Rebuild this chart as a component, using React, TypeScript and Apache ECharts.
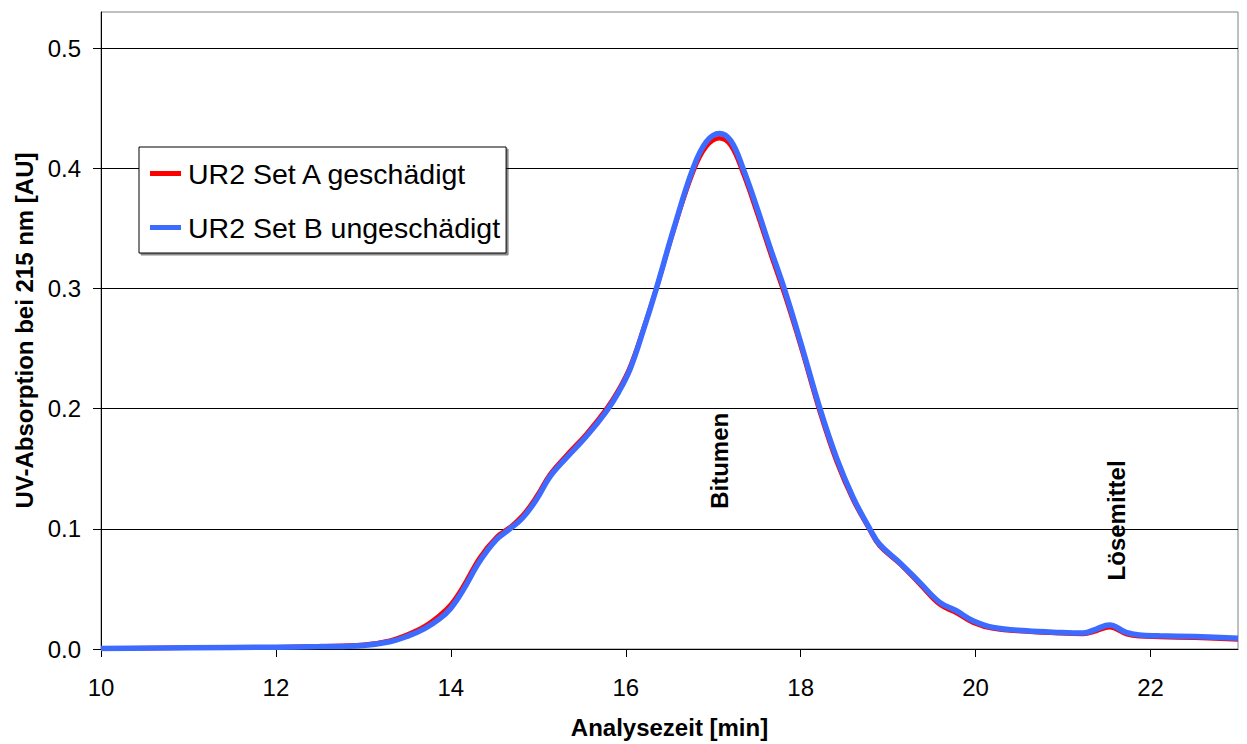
import React, { useEffect, useRef } from "react";
import * as echarts from "echarts";

const timeMin = [10, 11, 12, 12.5, 13, 13.3, 13.5, 13.7, 13.87, 14, 14.14, 14.33, 14.52, 14.67, 14.82, 14.98, 15.13, 15.32, 15.55, 15.78, 15.92, 16.05, 16.2, 16.35, 16.55, 16.77, 16.92, 17.07, 17.2, 17.34, 17.5, 17.65, 17.82, 18.0, 18.22, 18.41, 18.6, 18.79, 18.9, 19.13, 19.36, 19.59, 19.78, 19.97, 20.2, 20.58, 20.96, 21.23, 21.38, 21.53, 21.72, 21.87, 22.1, 22.5, 23];

const setA = [0.0005, 0.001, 0.0015, 0.0022, 0.0035, 0.007, 0.012, 0.019, 0.028, 0.037, 0.052, 0.076, 0.093, 0.101, 0.111, 0.127, 0.145, 0.161, 0.179, 0.2, 0.216, 0.235, 0.266, 0.3, 0.349, 0.397, 0.418, 0.425, 0.419, 0.396, 0.363, 0.33, 0.294, 0.252, 0.197, 0.156, 0.124, 0.099, 0.086, 0.071, 0.054, 0.037, 0.03, 0.022, 0.017, 0.0145, 0.013, 0.0125, 0.015, 0.018, 0.0125, 0.0105, 0.01, 0.0093, 0.008];

const setB = [0.0005, 0.001, 0.0015, 0.002, 0.003, 0.006, 0.0105, 0.017, 0.025, 0.034, 0.049, 0.073, 0.091, 0.0997, 0.109, 0.1246, 0.143, 0.159, 0.177, 0.198, 0.214, 0.233, 0.265, 0.3, 0.35, 0.4, 0.422, 0.429, 0.423, 0.4, 0.367, 0.334, 0.298, 0.255, 0.2, 0.159, 0.126, 0.1, 0.0872, 0.072, 0.0554, 0.0388, 0.0318, 0.0235, 0.018, 0.0152, 0.0138, 0.0133, 0.0166, 0.02, 0.0138, 0.0116, 0.011, 0.0103, 0.009];

const seriesNames = ["UR2 Set A geschädigt", "UR2 Set B ungeschädigt"];
const xTicks = [10, 12, 14, 16, 18, 20, 22];
const yTicks = [0, 0.1, 0.2, 0.3, 0.4, 0.5];
const annotations = [
  { text: "Bitumen", x: 17.07, y: 0.1566 },
  { text: "Lösemittel", x: 21.61, y: 0.107 },
];

const FONT = "'Liberation Sans', Arial, Helvetica, sans-serif";

export default function App() {
  const ref = useRef<HTMLDivElement>(null);

  useEffect(() => {
    document.body.style.margin = "0";
    const chart = echarts.init(ref.current!, null, { renderer: "svg" });
    const option: any = {
      animation: false,
      backgroundColor: "#ffffff",
      textStyle: { fontFamily: FONT },
      grid: {
        left: 101,
        right: 9,
        top: 12,
        bottom: 94,
        show: true,
        borderColor: "#808080",
        borderWidth: 1,
        backgroundColor: "transparent",
      },
      legend: {
        orient: "vertical",
        left: 139,
        top: 147,
        padding: [12, 6, 11, 11],
        itemGap: 25,
        itemWidth: 31,
        itemHeight: 5,
        backgroundColor: "#ffffff",
        borderColor: "#000000",
        borderWidth: 1,
        shadowColor: "rgba(0,0,0,0.45)",
        shadowOffsetX: 2,
        shadowOffsetY: 2,
        textStyle: { fontFamily: FONT, fontSize: 28.5, color: "#000", padding: [0, 0, 0, 2] },
        data: [
          { name: seriesNames[0], icon: "rect", itemStyle: { color: "#ff0000" } },
          { name: seriesNames[1], icon: "rect", itemStyle: { color: "#3d6bff" } },
        ],
      },
      xAxis: {
        type: "value",
        min: 10,
        max: 23,
        interval: 2,
        name: "Analysezeit [min]",
        nameLocation: "middle",
        nameGap: 66,
        nameTextStyle: { fontFamily: FONT, fontSize: 24, fontWeight: "bold", color: "#000" },
        axisLine: { show: true, lineStyle: { color: "#000", width: 1 } },
        axisTick: { show: true, length: 8, inside: false, lineStyle: { color: "#000" }, customValues: xTicks },
        axisLabel: {
          fontFamily: FONT,
          fontSize: 24,
          color: "#000",
          margin: 26,
          customValues: xTicks,
          formatter: (v: number) => String(v),
        },
        splitLine: { show: false },
      },
      yAxis: {
        type: "value",
        min: 0,
        max: 0.53,
        interval: 0.1,
        name: "UV-Absorption bei 215 nm [AU]",
        nameLocation: "middle",
        nameGap: 64,
        nameTextStyle: { fontFamily: FONT, fontSize: 24, fontWeight: "bold", color: "#000" },
        axisLine: { show: true, lineStyle: { color: "#000", width: 1 } },
        axisTick: { show: true, length: 8, inside: false, lineStyle: { color: "#000" }, customValues: yTicks },
        axisLabel: {
          fontFamily: FONT,
          fontSize: 24,
          color: "#000",
          margin: 20,
          customValues: yTicks,
          formatter: (v: number) => v.toFixed(1),
        },
        splitLine: { show: true, lineStyle: { color: "#000", width: 1 } },
      },
      series: [
        {
          name: seriesNames[0],
          type: "line",
          data: timeMin.map((t, i) => [t, setA[i]]),
          smooth: 0.4,
          showSymbol: false,
          lineStyle: { color: "#ff0000", width: 4.5 },
          itemStyle: { color: "#ff0000" },
          z: 2,
        },
        {
          name: seriesNames[1],
          type: "line",
          data: timeMin.map((t, i) => [t, setB[i]]),
          smooth: 0.4,
          showSymbol: false,
          lineStyle: { color: "#3d6bff", width: 5.5 },
          itemStyle: { color: "#3d6bff" },
          z: 3,
        },
      ],
    };
    chart.setOption(option);

    const graphic = annotations.map((a) => {
      const p = chart.convertToPixel({ gridIndex: 0 }, [a.x, a.y]) as number[];
      return {
        type: "text",
        x: p[0],
        y: p[1],
        rotation: Math.PI / 2,
        z: 10,
        style: {
          text: a.text,
          fontFamily: FONT,
          fontSize: 24,
          fontWeight: "bold",
          fill: "#000",
          align: "center",
          verticalAlign: "middle",
        },
      };
    });
    chart.setOption({ graphic });

    return () => chart.dispose();
  }, []);

  return <div ref={ref} style={{ width: 1247, height: 744 }} />;
}
